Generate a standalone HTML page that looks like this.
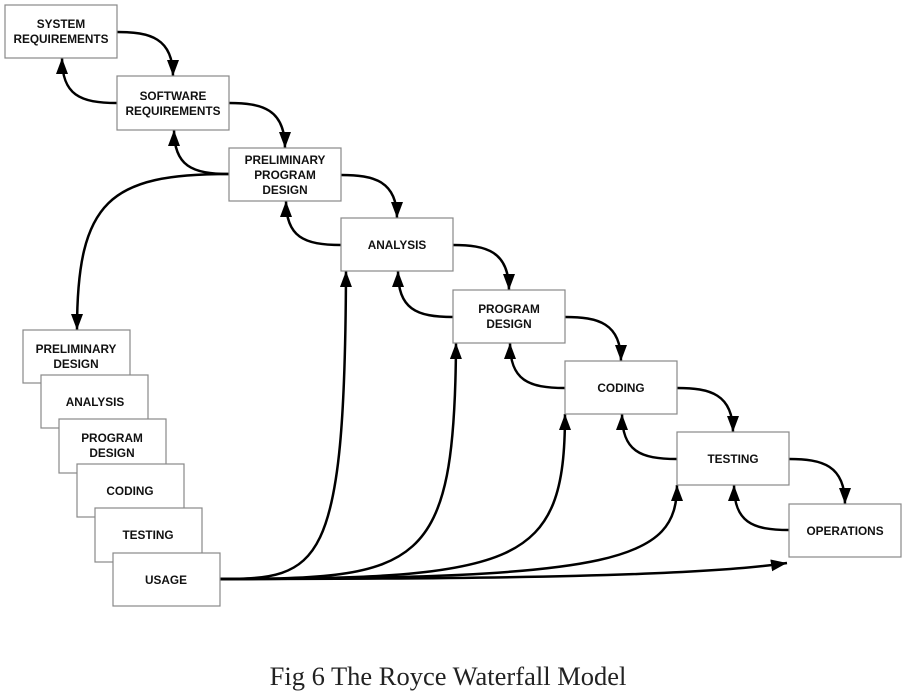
<!DOCTYPE html>
<html><head><meta charset="utf-8"><style>
body{margin:0;background:#fff;width:908px;height:692px;overflow:hidden}
svg text{font-family:"Liberation Sans",Arial,sans-serif;font-weight:bold;font-size:11.8px;fill:#111;text-anchor:middle}
</style></head><body>
<svg width="908" height="692" viewBox="0 0 908 692" xmlns="http://www.w3.org/2000/svg">
<defs>
<marker id="a" markerUnits="userSpaceOnUse" markerWidth="16" markerHeight="12" refX="16" refY="6" orient="auto">
<path d="M0,0 L16,6 L0,12 z" fill="#000"/>
</marker>
</defs>
<g fill="none" stroke="#000" stroke-width="2.5" marker-end="url(#a)">
<path d="M117,32 C150,32 173,38 173,76"/>
<path d="M229,103 C262,103 285,109 285,148"/>
<path d="M341,175 C374,175 397,181 397,218"/>
<path d="M453,245 C486,245 509,251 509,290"/>
<path d="M565,317 C598,317 621,323 621,361"/>
<path d="M677,388 C710,388 733,394 733,432"/>
<path d="M789,459 C822,459 845,465 845,504"/>
<path d="M117,103 C80,103 62,95 62,58"/>
<path d="M229,174 C192,174 174,166 174,130"/>
<path d="M341,245 C304,245 286,237 286,201"/>
<path d="M453,317 C416,317 398,309 398,271"/>
<path d="M565,388 C528,388 510,380 510,343"/>
<path d="M677,459 C640,459 622,451 622,414"/>
<path d="M789,530 C752,530 734,522 734,485"/>
<path d="M229,174 C110,174 77,200 77,330"/>
<path d="M220,579 C320,579 345,570 346,271"/>
<path d="M220,579 C420,579 455,570 456,343"/>
<path d="M220,579 C520,579 565,565 565,414"/>
<path d="M220,579 C620,579 677,560 677,485"/>
<path d="M220,579 C500,579 700,576 787,563"/>
</g>
<g fill="#fff" stroke="#888" stroke-width="1.2">
<rect x="5" y="5" width="112" height="53"/>
<rect x="117" y="76" width="112" height="54"/>
<rect x="229" y="148" width="112" height="53"/>
<rect x="341" y="218" width="112" height="53"/>
<rect x="453" y="290" width="112" height="53"/>
<rect x="565" y="361" width="112" height="53"/>
<rect x="677" y="432" width="112" height="53"/>
<rect x="789" y="504" width="112" height="53"/>
<rect x="23" y="330" width="107" height="53"/>
<rect x="41" y="375" width="107" height="53"/>
<rect x="59" y="419" width="107" height="54"/>
<rect x="77" y="464" width="107" height="53"/>
<rect x="95" y="508" width="107" height="54"/>
<rect x="113" y="553" width="107" height="53"/>
</g>
<text x="61" y="28">SYSTEM</text><text x="61" y="43">REQUIREMENTS</text>
<text x="173" y="100">SOFTWARE</text><text x="173" y="115">REQUIREMENTS</text>
<text x="285" y="164">PRELIMINARY</text><text x="285" y="179">PROGRAM</text><text x="285" y="194">DESIGN</text>
<text x="397" y="249">ANALYSIS</text>
<text x="509" y="313">PROGRAM</text><text x="509" y="328">DESIGN</text>
<text x="621" y="392">CODING</text>
<text x="733" y="463">TESTING</text>
<text x="845" y="535">OPERATIONS</text>
<text x="76" y="353">PRELIMINARY</text><text x="76" y="368">DESIGN</text>
<text x="95" y="406">ANALYSIS</text>
<text x="112" y="442">PROGRAM</text><text x="112" y="457">DESIGN</text>
<text x="130" y="495">CODING</text>
<text x="148" y="539">TESTING</text>
<text x="166" y="584">USAGE</text>
<text x="448" y="685" style="font-family:'Liberation Serif',serif;font-weight:normal;font-size:26.5px;fill:#222">Fig 6 The Royce Waterfall Model</text>
</svg>
</body></html>
